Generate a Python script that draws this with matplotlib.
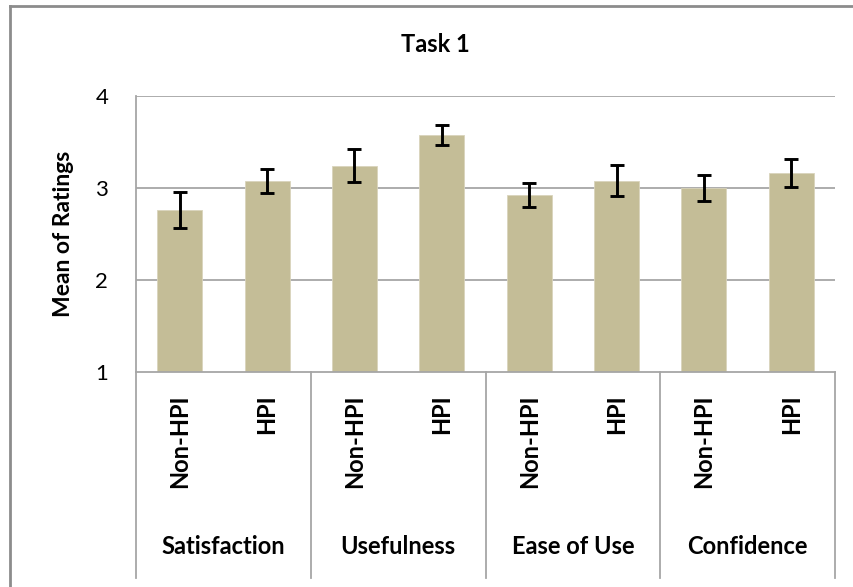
import matplotlib
matplotlib.use("Agg")
import matplotlib.pyplot as plt
import matplotlib.transforms as mtransforms
from matplotlib.lines import Line2D

# Ratings data
groups = ["Satisfaction", "Usefulness", "Ease of Use", "Confidence"]
conditions = ["Non-HPI", "HPI"]
means = [2.76, 3.08, 3.24, 3.58, 2.92, 3.08, 3.00, 3.16]
errors = [0.20, 0.13, 0.18, 0.11, 0.13, 0.165, 0.145, 0.15]
y_ticks = [1, 2, 3, 4]

plt.rcParams["font.family"] = ["Lato", "DejaVu Sans"]

W, H = 854, 587
fig = plt.figure(figsize=(W / 100, H / 100), dpi=100)

# axes box in pixel coordinates
x0, x1 = 136, 835
y_top, y_bot = 96, 372
ax = fig.add_axes([x0 / W, (H - y_bot) / H, (x1 - x0) / W, (y_bot - y_top) / H])

positions = list(range(len(means)))
bar_color = "#C4BD97"
grid_color = "#A6A6A6"

ax.bar(positions, [m - 1 for m in means], bottom=1, width=0.515,
       color=bar_color, edgecolor="#D9D4BC", linewidth=0.6, zorder=2)
ax.errorbar(positions, means, yerr=errors, fmt="none", ecolor="black",
            elinewidth=2.1, capsize=4.8, capthick=2.1, zorder=3)

ax.set_xlim(-0.5, len(means) - 0.5)
ax.set_ylim(1, 4)
ax.set_yticks(y_ticks)
ax.set_yticklabels([str(t) for t in y_ticks], fontsize=16)
ax.tick_params(axis="y", length=0, pad=20)
ax.set_xticks([])
for t in y_ticks[1:]:
    ax.axhline(t, color=grid_color, linewidth=1.3, zorder=1)

for side in ["top", "right"]:
    ax.spines[side].set_visible(False)
for side in ["left", "bottom"]:
    ax.spines[side].set_color(grid_color)
    ax.spines[side].set_linewidth(1.3)

# group dividers below the axis
trans = mtransforms.blended_transform_factory(ax.transData, ax.transAxes)
div_bottom = -(578 - y_bot) / (y_bot - y_top)
for k in range(len(groups) + 1):
    xb = -0.5 + 2 * k
    ax.add_line(Line2D([xb, xb], [0, div_bottom], transform=trans,
                       color=grid_color, linewidth=1.3, clip_on=False))

# condition labels (rotated) and group labels
label_top = -(394 - y_bot) / (y_bot - y_top)
group_y = -(547 - y_bot) / (y_bot - y_top)
for i, p in enumerate(positions):
    ax.text(p, label_top, conditions[i % 2], transform=trans, rotation=90,
            ha="center", va="top", fontsize=17, fontweight="bold")
for g, name in enumerate(groups):
    ax.text(2 * g + 0.5, group_y, name, transform=trans, ha="center",
            va="center", fontsize=17, fontweight="bold")

ax.set_ylabel("Mean of Ratings", fontsize=16.5, fontweight="bold")
ax.yaxis.set_label_coords((74 - x0) / (x1 - x0), 0.5)

fig.text(435 / W, 1 - 45 / H, "Task 1", ha="center", va="center",
         fontsize=17, fontweight="bold")

# outer frame
frame_color = "#8C8C8C"
fig.add_artist(Line2D([10.5 / W, 10.5 / W], [0, 1 - 6 / H], transform=fig.transFigure,
                      color=frame_color, linewidth=2))
fig.add_artist(Line2D([10 / W, 1], [1 - 6 / H, 1 - 6 / H], transform=fig.transFigure,
                      color=frame_color, linewidth=2))

fig.savefig("out.png", dpi=100)
